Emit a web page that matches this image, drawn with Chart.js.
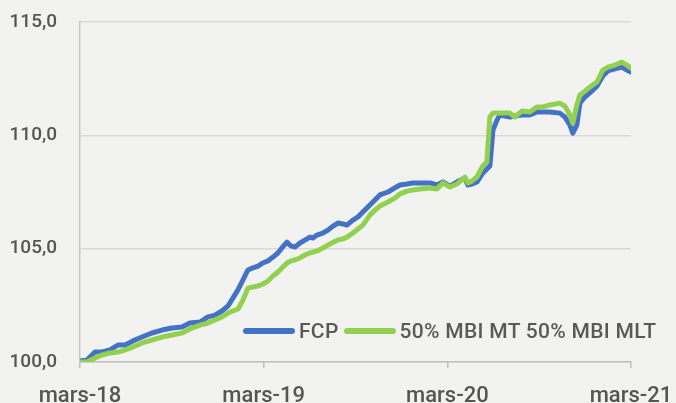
<!DOCTYPE html>
<html>
<head>
<meta charset="utf-8">
<script src="https://cdn.jsdelivr.net/npm/chart.js@4"></script>
<style>
  html, body { margin: 0; padding: 0; background: #f2f3f1; }
  #wrap { position: relative; width: 676px; height: 403px; overflow: hidden; }
  #legende { position: absolute; left: 243px; top: 318px; height: 26px; display: flex; align-items: center;
    font-family: Roboto, "Liberation Sans", sans-serif; font-size: 21px; font-weight: 500; color: #595959; white-space: nowrap; letter-spacing: 0.3px; }
  .trait { display: inline-block; width: 52px; height: 6px; border-radius: 3px; margin-right: 4px; }
</style>
</head>
<body>
<div id="wrap">
  <canvas id="graphique" width="676" height="403"></canvas>
  <div id="legende">
    <span class="trait" style="background:#4472c4"></span><span>FCP</span>
    <span class="trait" style="background:#92d050; margin-left:5px"></span><span>50% MBI MT 50% MBI MLT</span>
  </div>
</div>
<script>
// mois écoulés depuis mars-18
const mois = [0, 0.46, 0.98, 1.44, 1.96, 2.48, 2.94, 3.46, 4.05, 4.70, 5.36, 6.01, 6.66, 7.18, 7.84, 8.36, 8.82, 9.27, 9.67, 9.99,
  10.32, 10.65, 10.97, 11.30, 11.63, 11.95, 12.28, 12.61, 12.93, 13.19, 13.52, 13.78, 14.04, 14.37, 14.70, 15.02, 15.22, 15.48, 15.87, 16.20,
  16.46, 16.85, 17.18, 17.44, 17.83, 18.16, 18.48, 18.94, 19.27, 19.59, 20.12, 20.57, 20.90, 21.36, 21.75, 22.21, 22.86, 23.32, 23.71, 24.17,
  24.62, 25.15, 25.34, 25.60, 25.93, 26.32, 26.58, 26.78, 26.98, 27.24, 27.43, 28.09, 28.41, 28.87, 29.39, 29.85, 30.24, 30.70, 31.35, 31.68,
  32.01, 32.20, 32.46, 32.66, 32.99, 33.31, 33.77, 34.16, 34.49, 34.95, 35.40, 35.73, 35.99];

const fcp = [100.04, 100.09, 100.44, 100.44, 100.53, 100.75, 100.75, 100.93, 101.10, 101.28, 101.41, 101.50, 101.54, 101.72, 101.76, 101.99, 102.07, 102.25, 102.47, 102.82,
  103.18, 103.62, 104.06, 104.15, 104.23, 104.37, 104.46, 104.63, 104.81, 105.03, 105.29, 105.12, 105.07, 105.25, 105.38, 105.51, 105.47, 105.60, 105.69, 105.82,
  105.96, 106.13, 106.09, 106.04, 106.26, 106.40, 106.62, 106.93, 107.15, 107.37, 107.50, 107.68, 107.81, 107.85, 107.90, 107.90, 107.90, 107.81, 107.94, 107.76,
  107.94, 108.12, 107.81, 107.85, 107.94, 108.34, 108.51, 108.65, 110.23, 110.67, 110.90, 110.81, 110.85, 110.90, 110.90, 111.03, 111.03, 111.03, 110.98, 110.81,
  110.45, 110.10, 110.45, 111.42, 111.69, 111.87, 112.17, 112.62, 112.84, 112.93, 113.01, 112.88, 112.79];

const indice = [100.00, 100.00, 100.18, 100.31, 100.40, 100.44, 100.53, 100.66, 100.84, 100.97, 101.10, 101.19, 101.28, 101.46, 101.63, 101.72, 101.85, 101.99, 102.16, 102.25,
  102.34, 102.73, 103.26, 103.31, 103.35, 103.44, 103.57, 103.79, 103.97, 104.15, 104.37, 104.46, 104.50, 104.59, 104.72, 104.81, 104.85, 104.90, 105.03, 105.16,
  105.25, 105.38, 105.43, 105.51, 105.69, 105.87, 106.04, 106.48, 106.70, 106.88, 107.06, 107.23, 107.41, 107.54, 107.59, 107.63, 107.68, 107.63, 107.90, 107.72,
  107.85, 108.16, 107.90, 107.98, 108.16, 108.65, 108.82, 110.81, 110.98, 110.98, 110.98, 110.98, 110.81, 111.07, 111.03, 111.25, 111.25, 111.34, 111.42, 111.29,
  110.90, 110.54, 111.34, 111.78, 111.95, 112.13, 112.35, 112.88, 113.01, 113.10, 113.23, 113.10, 112.97];

const etiquettesX = ["mars-18", "mars-19", "mars-20", "mars-21"];
const ticksY = [100, 105, 110, 115];

const police = "Roboto, 'Liberation Sans', sans-serif";
const gris = "#555555";

//points {x,y} pour l'axe linéaire
const points = (valeurs) => valeurs.map((v, i) => ({ x: mois[i], y: v }));

new Chart(document.getElementById("graphique"), {
  type: "line",
  data: {
    datasets: [
      {
        label: "FCP",
        data: points(fcp),
        borderColor: "#4472c4",
        borderWidth: 5,
        pointRadius: 0,
        tension: 0,
        borderJoinStyle: "round",
        borderCapStyle: "round",
        order: 2
      },
      {
        label: "50% MBI MT 50% MBI MLT",
        data: points(indice),
        borderColor: "#92d050",
        borderWidth: 5,
        pointRadius: 0,
        tension: 0,
        borderJoinStyle: "round",
        borderCapStyle: "round",
        order: 1
      }
    ]
  },
  options: {
    responsive: false,
    animation: false,
    layout: { padding: { left: 0, right: 45, top: 22, bottom: 0 } },
    plugins: { legend: { display: false }, tooltip: { enabled: false } },
    scales: {
      x: {
        type: "linear",
        min: 0,
        max: 36,
        //hauteur fixe, pas de marge auto à droite
        afterFit: (s) => { s.height = 41; s.paddingLeft = 0; s.paddingRight = 0; },
        afterBuildTicks: (s) => { s.ticks = [0, 12, 24, 36].map(v => ({ value: v })); },
        ticks: {
          autoSkip: false,
          maxRotation: 0,
          padding: 15,
          color: gris,
          font: { family: police, size: 22, weight: "500" },
          callback: (v) => etiquettesX[Math.round(v / 12)]
        },
        grid: { drawOnChartArea: false, drawTicks: true, tickLength: 6, color: "#bfbfbf", lineWidth: 1.5 },
        border: { display: true, color: "#bfbfbf", width: 1.5 }
      },
      y: {
        min: 100,
        max: 115,
        afterFit: (s) => { s.width = 80; s.paddingTop = 0; s.paddingBottom = 0; },
        afterBuildTicks: (s) => { s.ticks = ticksY.map(v => ({ value: v })); },
        ticks: {
          padding: 23,
          color: gris,
          font: { family: police, size: 19, weight: "500" },
          callback: (v) => v.toFixed(1).replace(".", ",")
        },
        grid: { drawTicks: false, color: "#d9d9d9", lineWidth: 1.5 },
        border: { display: true, color: "#c8c8c8", width: 1.5 }
      }
    }
  }
});
</script>
</body>
</html>
